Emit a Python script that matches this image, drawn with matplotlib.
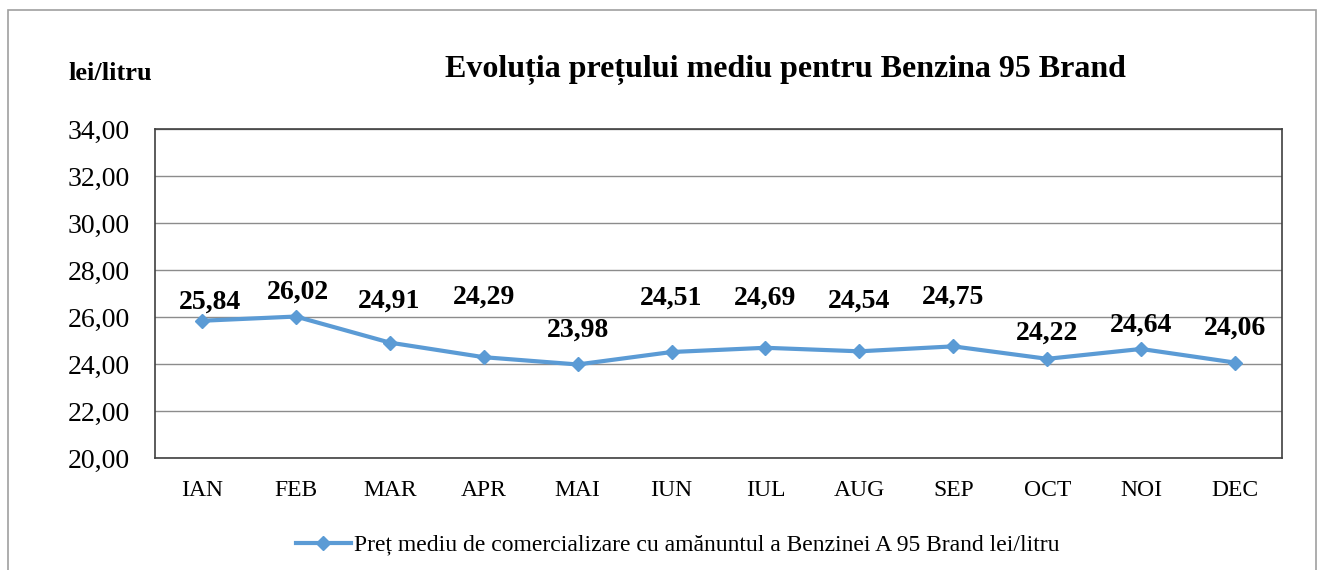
import numpy as np
import matplotlib.pyplot as plt
from matplotlib.patches import Rectangle
from matplotlib.lines import Line2D

# ---------- Data ----------
months = ['IAN', 'FEB', 'MAR', 'APR', 'MAI', 'IUN', 'IUL', 'AUG', 'SEP', 'OCT', 'NOI', 'DEC']
prices = [25.84, 26.02, 24.91, 24.29, 23.98, 24.51, 24.69, 24.54, 24.75, 24.22, 24.64, 24.06]
yticks = [20, 22, 24, 26, 28, 30, 32, 34]

# label offsets above points (pixels), as placed in the original
label_dy = [19, 24, 41, 60, 34, 54, 50, 50, 49, 26, 24, 34]
label_dx = [8, 2, -1, 0, 0, 0, 0, 0, 0, 0, 0, 0]

plt.rcParams['font.family'] = ['Liberation Serif', 'DejaVu Serif']
line_col = '#5B9BD5'

def comma(v):
    return ('%.2f' % v).replace('.', ',')

fig = plt.figure(figsize=(13.24, 5.70), dpi=100)
W, H = 1324, 570
ax = fig.add_axes([155/W, 1-458/H, (1282-155)/W, (458-129)/H])

x = np.arange(len(months))
ax.plot(x, prices, color=line_col, lw=3, marker='D', ms=7, zorder=3)

for i, v in enumerate(prices):
    ax.annotate(comma(v), (x[i], v), xytext=(label_dx[i]*0.72, label_dy[i]*0.72),
                textcoords='offset points', ha='center', va='center',
                fontsize=20, fontweight='bold')

ax.set_xlim(-0.5, len(months)-0.5)
ax.set_ylim(20, 34)
ax.set_yticks(yticks)
ax.set_yticklabels([comma(t) for t in yticks], fontsize=20)
ax.set_xticks(x)
ax.set_xticklabels(months, fontsize=17)
ax.tick_params(axis='both', length=0)
ax.tick_params(axis='y', pad=18)
ax.tick_params(axis='x', pad=16)
ax.grid(axis='y', color='#8c8c8c', lw=1)
ax.set_axisbelow(True)
for s in ax.spines.values():
    s.set_color('#404040')
    s.set_linewidth(1.2)

# title and unit
fig.text(785/W, 1-70/H, 'Evoluția prețului mediu pentru Benzina 95 Brand',
         ha='center', va='center', fontsize=23, fontweight='bold')
fig.text(68/W, 1-73/H, 'lei/litru', ha='left', va='center', fontsize=19, fontweight='bold')

# legend
h = Line2D([], [], color=line_col, lw=3, marker='D', ms=7)
fig.legend([h], ['Preț mediu de comercializare cu amănuntul a Benzinei A 95 Brand lei/litru'],
           loc='center', bbox_to_anchor=(678/W, 1-545/H), frameon=False, fontsize=17,
           handlelength=2.3, handletextpad=0.15)

# outer frame of chart
fig.patches.append(Rectangle((8/W, -0.05), (1316-8)/W, 1.05-10/H, transform=fig.transFigure,
                             fill=False, edgecolor='#a0a0a0', lw=1.2))

plt.savefig('out.png', dpi=100)
